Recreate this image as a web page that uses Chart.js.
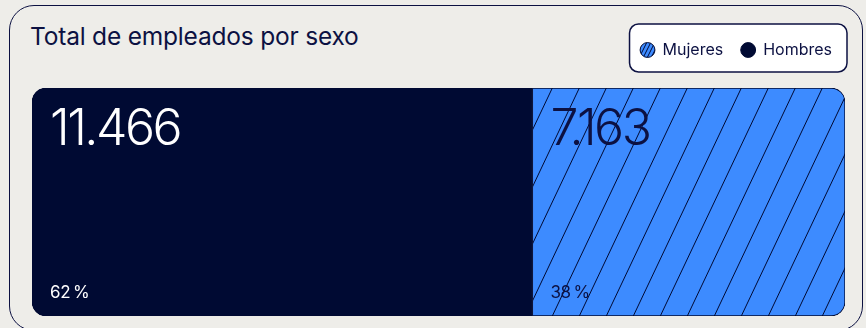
<!DOCTYPE html>
<html>
<head>
<meta charset="utf-8">
<script src="https://cdn.jsdelivr.net/npm/chart.js@4"></script>
<style>
  html, body { margin: 0; padding: 0; background: #eeede9; }
  body { width: 866px; height: 328px; position: relative; overflow: hidden; font-family: Inter, "Noto Sans", sans-serif; }
  .card { position: absolute; left: 9px; top: 5px; width: 852px; height: 324px; border: 1.5px solid #0c1142; border-radius: 25px; }
  .title { position: absolute; left: 30px; top: 21px; font-size: 24.5px; color: #0c1142; letter-spacing: -0.2px; }
  #wrap { position: absolute; left: 0; top: 0; width: 866px; height: 328px; }
</style>
</head>
<body>
<div class="card"></div>
<div class="title">Total de empleados por sexo</div>
<div id="wrap"><canvas id="myChart"></canvas></div>
<script>
var categorias = ["Total"];
var seriesNames = ["Hombres", "Mujeres"];
var hombres = [11466];
var mujeres = [7163];

var navy = '#000a33';
var blue = '#3d8bff';
var textNavy = '#0c1142';

function hatch(w, h, lw) {
    var c = document.createElement('canvas');
    c.width = w; c.height = h;
    var x = c.getContext('2d');
    x.fillStyle = blue;
    x.fillRect(0, 0, w, h);
    x.strokeStyle = navy;
    x.lineWidth = lw;
    [-w, 0, w].forEach(function (o) {
        x.beginPath();
        x.moveTo(o, h);
        x.lineTo(o + w, 0);
        x.stroke();
    });
    return x.createPattern(c, 'repeat');
}

var bigHatch = hatch(27, 57, 1);
var smallHatch = hatch(4, 8, 1);

function fmt(n) {
    return String(n).replace(/\B(?=(\d{3})+(?!\d))/g, '.');
}

var total = hombres[0] + mujeres[0];

// fondo blanco de la leyenda
var legendBox = {
    id: 'legendBox',
    beforeInit: function (chart) {
        var fit = chart.legend.fit;
        chart.legend.fit = function () {
            fit.bind(chart.legend)();
            this.height = 64;
        };
    },
    afterLayout: function (chart) {
        chart.legend.left += 5;
        chart.legend.right += 5;
    },
    beforeDraw: function (chart) {
        var hb = chart.legend.legendHitBoxes;
        if (!hb || !hb.length) return;
        var first = hb[0], last = hb[hb.length - 1];
        var l = first.left - 11, r = last.left + last.width + 15;
        var ctx = chart.ctx;
        ctx.save();
        ctx.beginPath();
        ctx.roundRect(l, 24, r - l, 48, 9);
        ctx.fillStyle = '#ffffff';
        ctx.fill();
        ctx.lineWidth = 1.5;
        ctx.strokeStyle = textNavy;
        ctx.stroke();
        ctx.restore();
    }
};

// etiquetas dentro de las barras
var barLabels = {
    id: 'barLabels',
    afterDatasetsDraw: function (chart) {
        var ctx = chart.ctx;
        chart.data.datasets.forEach(function (ds, i) {
            var el = chart.getDatasetMeta(i).data[0];
            var left = Math.min(el.x, el.base);
            var top = el.y - el.height / 2;
            var bottom = el.y + el.height / 2;
            var v = ds.data[0];
            ctx.save();
            ctx.fillStyle = i === 0 ? '#ffffff' : textNavy;
            ctx.textBaseline = 'alphabetic';
            ctx.textAlign = 'left';
            ctx.font = '300 50px Inter';
            ctx.letterSpacing = '-2.5px';
            ctx.fillText(fmt(v), left + 18, top + 57);
            ctx.font = '400 17px Inter';
            ctx.letterSpacing = '-0.3px';
            ctx.fillText(Math.round(v / total * 100) + '\u2009%', left + 18, bottom - 18);
            ctx.restore();
        });
    }
};

new Chart(document.getElementById('myChart'), {
    type: 'bar',
    data: {
        labels: categorias,
        datasets: [{
            label: seriesNames[0],
            data: hombres,
            backgroundColor: navy,
            borderColor: navy,
            borderWidth: 1,
            borderSkipped: false,
            borderRadius: {topLeft: 14, bottomLeft: 14, topRight: 0, bottomRight: 0}
        }, {
            label: seriesNames[1],
            data: mujeres,
            backgroundColor: bigHatch,
            borderColor: navy,
            borderWidth: 1,
            borderSkipped: false,
            borderRadius: {topLeft: 0, bottomLeft: 0, topRight: 14, bottomRight: 14}
        }]
    },
    options: {
        indexAxis: 'y',
        responsive: true,
        maintainAspectRatio: false,
        animation: false,
        layout: {padding: {left: 32, right: 21, top: 24, bottom: 12}},
        datasets: {bar: {categoryPercentage: 1, barPercentage: 1}},
        scales: {
            x: {stacked: true, display: false, min: 0, max: total},
            y: {stacked: true, display: false}
        },
        plugins: {
            tooltip: {enabled: false},
            legend: {
                position: 'top',
                align: 'end',
                reverse: true,
                labels: {
                    usePointStyle: true,
                    pointStyle: 'circle',
                    boxWidth: 14,
                    boxHeight: 10.5,
                    padding: 18,
                    color: textNavy,
                    font: {family: 'Inter', size: 16},
                    generateLabels: function (chart) {
                        return chart.data.datasets.map(function (ds, i) {
                            return {
                                text: ds.label,
                                fillStyle: i === 1 ? smallHatch : navy,
                                strokeStyle: navy,
                                lineWidth: 1,
                                pointStyle: 'circle',
                                fontColor: textNavy,
                                datasetIndex: i
                            };
                        });
                    }
                }
            }
        }
    },
    plugins: [legendBox, barLabels]
});
</script>
</body>
</html>
